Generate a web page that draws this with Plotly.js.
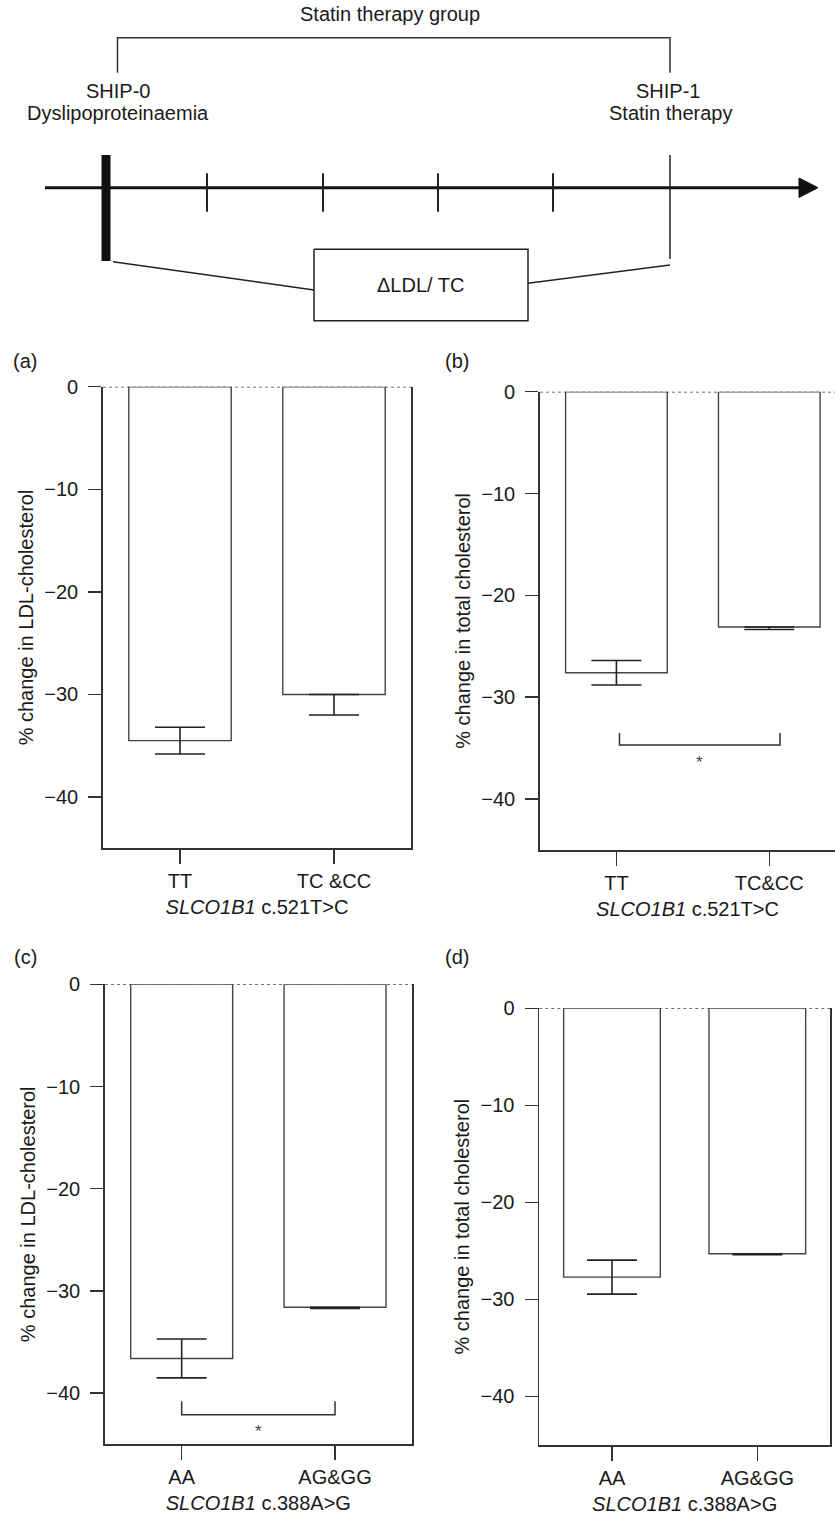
<!DOCTYPE html>
<html>
<head>
<meta charset="utf-8">
<script src="https://cdn.plot.ly/plotly-3.0.1.min.js"></script>
<style>html,body{margin:0;padding:0;background:#fff;}#chart{width:835px;height:1518px;}</style>
</head>
<body>
<div id="chart"></div>
<script>
// ---------------- data ----------------
const aCategories = ['TT', 'TC &CC'];
const aValues = [-34.5, -30.0];
const aErrPlus = [1.3, 0];
const aErrMinus = [1.3, 2.0];

const bCategories = ['TT', 'TC&CC'];
const bValues = [-27.6, -23.1];
const bErrPlus = [1.2, 0];
const bErrMinus = [1.2, 0.25];

const cCategories = ['AA', 'AG&GG'];
const cValues = [-36.6, -31.6];
const cErrPlus = [1.9, 0];
const cErrMinus = [1.9, 0.1];

const dCategories = ['AA', 'AG&GG'];
const dValues = [-27.7, -25.3];
const dErrPlus = [1.75, 0];
const dErrMinus = [1.75, 0.1];

const yTicks = [0, -10, -20, -30, -40];
const yTickLabels = ['0', '\u221210', '\u221220', '\u221230', '\u221240'];

// significance brackets: [x start, x end, arm top, bar level, star level]
const bSignif = [0.02, 1.07, -33.5, -34.7, -36.0];
const cSignif = [0.0, 1.0, -40.8, -42.1, -43.4];

const titleLDL = '% change in LDL-cholesterol';
const titleTC = '% change in total cholesterol';
const title521 = '<i>SLCO1B1</i> c.521T>C';
const title388 = '<i>SLCO1B1</i> c.388A>G';

// ---------------- style ----------------
const FONT = 'Liberation Sans, Arial, Helvetica, sans-serif';
const TXT = '#1a1a1a';
const LINE = '#333';
const W = 835, H = 1518;

const traces = [];
const shapes = [];
const annotations = [];
const layout = {
  width: W, height: H,
  margin: {l: 0, r: 0, t: 0, b: 0},
  paper_bgcolor: '#fff', plot_bgcolor: 'rgba(0,0,0,0)',
  showlegend: false,
  font: {family: FONT, size: 20, color: TXT}
};

function pxX(p) { return p / W; }
function pxY(p) { return 1 - p / H; }

function panel(n, cats, vals, plus, minus, xpx, ypx, xRange, mirror, yTitle, xTitle, label, labelPos) {
  const xa = n === 1 ? 'x' : 'x' + n;
  const ya = n === 1 ? 'y' : 'y' + n;
  const xs = cats.map((c, i) => i);
  traces.push({
    type: 'bar', x: xs, y: vals, xaxis: xa, yaxis: ya, width: 0.665,
    marker: {color: '#fff', line: {color: '#444', width: 1.4}},
    error_y: {type: 'data', symmetric: false, array: plus, arrayminus: minus,
              color: '#222', thickness: 1.6, width: 25},
    hoverinfo: 'skip'
  });
  layout['xaxis' + (n === 1 ? '' : n)] = {
    domain: [pxX(xpx[0]), pxX(xpx[1])], anchor: ya, range: xRange,
    tickmode: 'array', tickvals: xs, ticktext: cats,
    showline: true, linecolor: LINE, linewidth: 1.8, mirror: false,
    ticks: 'outside', ticklen: 14, tickwidth: 1.5, tickcolor: LINE,
    ticklabelstandoff: 0,
    showgrid: false, zeroline: false, fixedrange: true,
    tickfont: {family: FONT, size: 20, color: TXT},
    title: {text: xTitle, font: {family: FONT, size: 20, color: TXT}, standoff: 9}
  };
  layout['yaxis' + (n === 1 ? '' : n)] = {
    domain: [pxY(ypx[1]), pxY(ypx[0])], anchor: xa, range: [-45, 0],
    tickmode: 'array', tickvals: yTicks, ticktext: yTickLabels,
    showline: true, linecolor: LINE, linewidth: 1.8, mirror: mirror,
    ticks: 'outside', ticklen: 13, tickwidth: 1.5, tickcolor: LINE,
    ticklabelstandoff: 6,
    showgrid: false, zeroline: false, fixedrange: true,
    tickfont: {family: FONT, size: 20, color: TXT},
    title: {text: yTitle, font: {family: FONT, size: 20, color: TXT}, standoff: 5}
  };
  shapes.push({type: 'line', xref: xa + ' domain', yref: ya, x0: 0, x1: 1, y0: 0, y1: 0,
               line: {color: '#444', width: 1.6, dash: 'dot'}, layer: 'below'});
  annotations.push({text: label, xref: 'paper', yref: 'paper', x: pxX(labelPos[0]), y: pxY(labelPos[1]),
                    xanchor: 'center', yanchor: 'middle', showarrow: false,
                    font: {family: FONT, size: 20, color: TXT}});
  return [xa, ya];
}

function signif(axes, s) {
  traces.push({type: 'scatter', mode: 'lines', xaxis: axes[0], yaxis: axes[1],
    x: [s[0], s[0], s[1], s[1]], y: [s[2], s[3], s[3], s[2]],
    line: {color: '#333', width: 1.5}, hoverinfo: 'skip'});
  annotations.push({text: '*', xref: axes[0], yref: axes[1], x: (s[0] + s[1]) / 2, y: s[4],
    xanchor: 'center', yanchor: 'middle', yshift: -4, showarrow: false,
    font: {family: FONT, size: 17, color: '#444'}});
}

const axA = panel(1, aCategories, aValues, aErrPlus, aErrMinus, [103, 411], [386.7, 848.3], [-0.5, 1.5], true,
      titleLDL, title521, '(a)', [25, 361]);
const axB = panel(2, bCategories, bValues, bErrPlus, bErrMinus, [540, 835], [391.7, 850], [-0.5, 1.43], false,
      titleTC, title521, '(b)', [457, 361]);
const axC = panel(3, cCategories, cValues, cErrPlus, cErrMinus, [105, 411.7], [984.3, 1444.3], [-0.5, 1.5], true,
      titleLDL, title388, '(c)', [25, 957]);
const axD = panel(4, dCategories, dValues, dErrPlus, dErrMinus, [539.3, 830], [1008.3, 1445], [-0.5, 1.5], true,
      titleTC, title388, '(d)', [457, 957]);
signif(axB, bSignif);
signif(axC, cSignif);

// ---------------- study design schematic (top) ----------------
// schematic coordinates in the top band (x: 0..835, y: 0..330 downward)
layout.xaxis5 = {domain: [0, 1], range: [0, 835], visible: false, fixedrange: true, anchor: 'y5'};
layout.yaxis5 = {domain: [pxY(330), 1], range: [330, 0], visible: false, fixedrange: true, anchor: 'x5'};

const timelineMarks = [207, 323, 438, 553];  // intermediate time marks
const ship0 = 106, ship1 = 670;

function seg(x, y, w, extra) {
  traces.push(Object.assign({type: 'scatter', mode: 'lines', xaxis: 'x5', yaxis: 'y5', x: x, y: y,
    line: {color: '#111', width: w}, hoverinfo: 'skip'}, extra || {}));
}
// bracket "Statin therapy group"
seg([117.5, 117.5, ship1, ship1], [72.7, 37.7, 37.7, 72.7], 1.5, {line: {color: '#333', width: 1.5}});
// time axis
seg([45, 802], [187.7, 187.7], 3);
seg([799, 818, 799, 799], [178, 187.7, 197.5, 178], 1, {fill: 'toself', fillcolor: '#111'});
// SHIP-0 thick mark
seg([ship0, ship0], [155, 261], 9);
// intermediate marks
const mx = [], my = [];
timelineMarks.forEach(t => { mx.push(t, t, null); my.push(173.3, 211.7, null); });
seg(mx, my, 2, {line: {color: '#222', width: 2}});
// SHIP-1 mark
seg([ship1, ship1], [155, 259], 1.5, {line: {color: '#222', width: 1.5}});
// ΔLDL/TC box and connectors
seg([314, 528, 528, 314, 314], [249.3, 249.3, 320.7, 320.7, 249.3], 1.5, {line: {color: '#222', width: 1.5}});
seg([113, 314], [261.7, 290], 1.5, {line: {color: '#222', width: 1.5}});
seg([528, ship1], [283.3, 265], 1.5, {line: {color: '#222', width: 1.5}});

function dtext(t, x, y) {
  annotations.push({text: t, xref: 'x5', yref: 'y5', x: x, y: y, xanchor: 'center', yanchor: 'middle',
    showarrow: false, font: {family: FONT, size: 20, color: TXT}});
}
dtext('Statin therapy group', 390, 14);
dtext('SHIP-0', 117.5, 91);
dtext('Dyslipoproteinaemia', 117.5, 113);
dtext('SHIP-1', 668, 91);
dtext('Statin therapy', 670, 113);
dtext('\u0394LDL/ TC', 420.5, 285);

layout.shapes = shapes;
layout.annotations = annotations;

Plotly.newPlot('chart', traces, layout, {staticPlot: true, displayModeBar: false});
</script>
</body>
</html>
